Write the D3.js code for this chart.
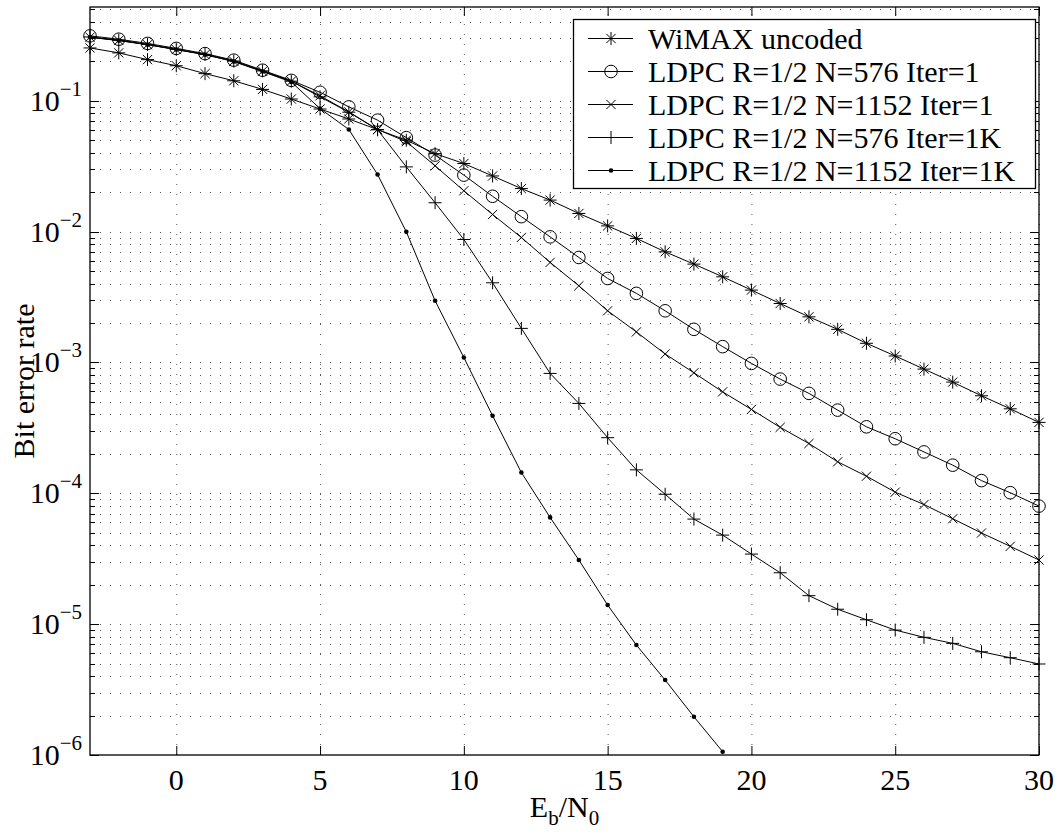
<!DOCTYPE html>
<html>
<head>
<meta charset="utf-8">
<title>LDPC BER curves</title>
<script src="https://cdn.jsdelivr.net/npm/d3@7"></script>
<style>
  body { margin: 0; background: #fff; }
  svg text { font-family: "Liberation Serif", "Times New Roman", serif; fill: #000; }
</style>
</head>
<body>
<div id="chart"></div>
<script>
// Eb/N0 points (dB)
var ebn0 = [-3,-2,-1,0,1,2,3,4,5,6,7,8,9,10,11,12,13,14,15,16,17,18,19,20,21,22,23,24,25,26,27,28,29,30];
var ebn0Short = [-3,-2,-1,0,1,2,3,4,5,6,7,8,9,10,11,12,13,14,15,16,17,18,19];

// BER values
var wimaxUncoded = [0.253,0.232,0.206,0.185,0.161,0.142,0.122,0.103,0.0864,0.0725,0.0601,0.0499,0.0394,0.0331,0.0266,0.0213,0.0174,0.01375,0.01105,0.00886,0.00700,0.00564,0.00451,0.00357,0.00282,0.00223,0.00179,0.00140,0.00112,0.000889,0.000707,0.000556,0.000442,0.000348];
var ldpc576it1 = [0.313,0.295,0.274,0.251,0.229,0.204,0.171,0.143,0.116,0.0897,0.0710,0.0522,0.0384,0.0270,0.0186,0.0130,0.00911,0.00634,0.00438,0.00337,0.00248,0.00179,0.00132,0.000983,0.000746,0.000580,0.000432,0.000322,0.000261,0.000207,0.000164,0.000125,0.000101,0.0000798];
var ldpc1152it1 = [0.306,0.289,0.268,0.246,0.225,0.200,0.168,0.141,0.109,0.0821,0.0603,0.0486,0.0318,0.0205,0.0135,0.00901,0.00581,0.00385,0.00248,0.00171,0.00116,0.000833,0.000596,0.000437,0.000319,0.000240,0.000174,0.000135,0.000102,0.0000820,0.0000639,0.0000497,0.0000393,0.0000309];
var ldpc576it1k = [0.307,0.290,0.269,0.247,0.226,0.201,0.169,0.141,0.107,0.0817,0.0600,0.0312,0.0166,0.00870,0.00406,0.00182,0.000824,0.000486,0.000266,0.000151,0.0000983,0.0000635,0.0000479,0.0000343,0.0000247,0.0000165,0.0000130,0.0000108,0.00000901,0.00000793,0.00000713,0.00000615,0.00000554,0.00000496];
var ldpc1152it1k = [0.305,0.288,0.268,0.246,0.225,0.199,0.167,0.139,0.087,0.0603,0.0273,0.00995,0.00296,0.00109,0.000391,0.000144,0.0000654,0.0000309,0.0000140,0.00000692,0.00000374,0.00000196,0.00000106];

var seriesNames = ["WiMAX uncoded", "LDPC R=1/2 N=576 Iter=1", "LDPC R=1/2 N=1152 Iter=1", "LDPC R=1/2 N=576 Iter=1K", "LDPC R=1/2 N=1152 Iter=1K"];
var seriesMarkers = ["star", "circle", "cross", "plus", "dot"];
var xTickValues = [0, 5, 10, 15, 20, 25, 30];
var yDecades = [-1, -2, -3, -4, -5, -6];

var width = 1059, height = 836;
var plotLeft = 90, plotRight = 1039, plotTop = 7, plotBottom = 755;
var fontSize = 30;

var x = d3.scaleLinear().domain([-3, 30]).range([plotLeft, plotRight]);
var y = d3.scaleLog().domain([1e-6, 0.52]).range([plotBottom, plotTop]);

var svg = d3.select("#chart").append("svg")
    .attr("width", width)
    .attr("height", height);

// grid (dotted)
var grid = svg.append("g").attr("stroke", "#555").attr("stroke-width", 1).attr("stroke-dasharray", "1,9");
grid.selectAll("line.gx").data(xTickValues).enter().append("line")
    .attr("x1", d => x(d) + 0.5).attr("x2", d => x(d) + 0.5)
    .attr("y1", plotBottom).attr("y2", plotTop);
var yMinor = y.ticks().filter(d => d > 1e-6 * 1.0001 && d < 0.52);
grid.selectAll("line.gy").data(yMinor).enter().append("line")
    .attr("x1", plotLeft).attr("x2", plotRight)
    .attr("y1", d => Math.round(y(d)) + 0.5).attr("y2", d => Math.round(y(d)) + 0.5);

// ticks
var ticks = svg.append("g").attr("stroke", "#000").attr("stroke-width", 1);
xTickValues.forEach(function(d) {
  ticks.append("line").attr("x1", x(d) + 0.5).attr("x2", x(d) + 0.5).attr("y1", plotBottom).attr("y2", plotBottom - 9);
  ticks.append("line").attr("x1", x(d) + 0.5).attr("x2", x(d) + 0.5).attr("y1", plotTop).attr("y2", plotTop + 9);
});
y.ticks().forEach(function(d) {
  var isMajor = Math.abs(Math.log10(d) - Math.round(Math.log10(d))) < 1e-6;
  var len = isMajor ? 9 : 5;
  var yy = Math.round(y(d)) + 0.5;
  ticks.append("line").attr("x1", plotLeft).attr("x2", plotLeft + len).attr("y1", yy).attr("y2", yy);
  ticks.append("line").attr("x1", plotRight).attr("x2", plotRight - len).attr("y1", yy).attr("y2", yy);
});

// frame
svg.append("rect")
    .attr("x", plotLeft).attr("y", plotTop)
    .attr("width", plotRight - plotLeft).attr("height", plotBottom - plotTop)
    .attr("fill", "none").attr("stroke", "#000").attr("stroke-width", 1.3);

// tick labels
svg.selectAll("text.xt").data(xTickValues).enter().append("text")
    .attr("x", d => x(d)).attr("y", 790)
    .attr("text-anchor", "middle")
    .attr("font-size", fontSize)
    .text(d => d);

yDecades.forEach(function(p) {
  var t = svg.append("text")
      .attr("x", 82).attr("y", y(Math.pow(10, p)) + 10)
      .attr("text-anchor", "end")
      .attr("font-size", fontSize);
  t.append("tspan").text("10");
  t.append("tspan").attr("dy", -15).attr("font-size", 21).text("\u2212" + (-p));
});

// axis titles
svg.append("text")
    .attr("transform", "translate(34," + ((plotTop + plotBottom) / 2) + ") rotate(-90)")
    .attr("text-anchor", "middle")
    .attr("font-size", fontSize)
    .text("Bit error rate");

var xl = svg.append("text")
    .attr("x", (plotLeft + plotRight) / 2).attr("y", 817)
    .attr("text-anchor", "middle")
    .attr("font-size", fontSize);
xl.append("tspan").text("E");
xl.append("tspan").attr("dy", 8).attr("font-size", 21).text("b");
xl.append("tspan").attr("dy", -8).text("/N");
xl.append("tspan").attr("dy", 8).attr("font-size", 21).text("0");

// markers
function drawMarker(g, type, cx, cy) {
  if (type === "star") {
    var a = 6.5, b = 4.6;
    g.append("path").attr("d", "M" + (cx - a) + "," + cy + "H" + (cx + a) +
      "M" + cx + "," + (cy - a) + "V" + (cy + a) +
      "M" + (cx - b) + "," + (cy - b) + "L" + (cx + b) + "," + (cy + b) +
      "M" + (cx - b) + "," + (cy + b) + "L" + (cx + b) + "," + (cy - b))
      .attr("stroke", "#000").attr("fill", "none");
  } else if (type === "circle") {
    g.append("circle").attr("cx", cx).attr("cy", cy).attr("r", 6.3)
      .attr("stroke", "#000").attr("fill", "none");
  } else if (type === "cross") {
    var c = 4.6;
    g.append("path").attr("d", "M" + (cx - c) + "," + (cy - c) + "L" + (cx + c) + "," + (cy + c) +
      "M" + (cx - c) + "," + (cy + c) + "L" + (cx + c) + "," + (cy - c))
      .attr("stroke", "#000").attr("fill", "none");
  } else if (type === "plus") {
    var p = 6.5;
    g.append("path").attr("d", "M" + (cx - p) + "," + cy + "H" + (cx + p) +
      "M" + cx + "," + (cy - p) + "V" + (cy + p))
      .attr("stroke", "#000").attr("fill", "none");
  } else if (type === "dot") {
    g.append("circle").attr("cx", cx).attr("cy", cy).attr("r", 2.3).attr("fill", "#000");
  }
}

var seriesData = [
  { xs: ebn0, ys: wimaxUncoded },
  { xs: ebn0, ys: ldpc576it1 },
  { xs: ebn0, ys: ldpc1152it1 },
  { xs: ebn0, ys: ldpc576it1k },
  { xs: ebn0Short, ys: ldpc1152it1k }
];

var line = d3.line().x(d => x(d[0])).y(d => y(d[1]));
var plot = svg.append("g");
seriesData.forEach(function(s, i) {
  var pts = s.xs.map((v, j) => [v, s.ys[j]]);
  var g = plot.append("g");
  g.append("path").datum(pts).attr("d", line)
      .attr("fill", "none").attr("stroke", "#000").attr("stroke-width", 1);
  pts.forEach(function(pt) { drawMarker(g, seriesMarkers[i], x(pt[0]), y(pt[1])); });
});

// legend
var legend = svg.append("g");
legend.append("rect")
    .attr("x", 573.5).attr("y", 19.5).attr("width", 462).attr("height", 169)
    .attr("fill", "#fff").attr("stroke", "#000").attr("stroke-width", 1.3);
seriesNames.forEach(function(name, i) {
  var ly = 38.5 + i * 33;
  legend.append("line").attr("x1", 588).attr("x2", 633).attr("y1", ly).attr("y2", ly)
      .attr("stroke", "#000");
  drawMarker(legend, seriesMarkers[i], 611, ly);
  legend.append("text").attr("x", 648).attr("y", ly + 10)
      .attr("font-size", fontSize).text(name);
});
</script>
</body>
</html>
